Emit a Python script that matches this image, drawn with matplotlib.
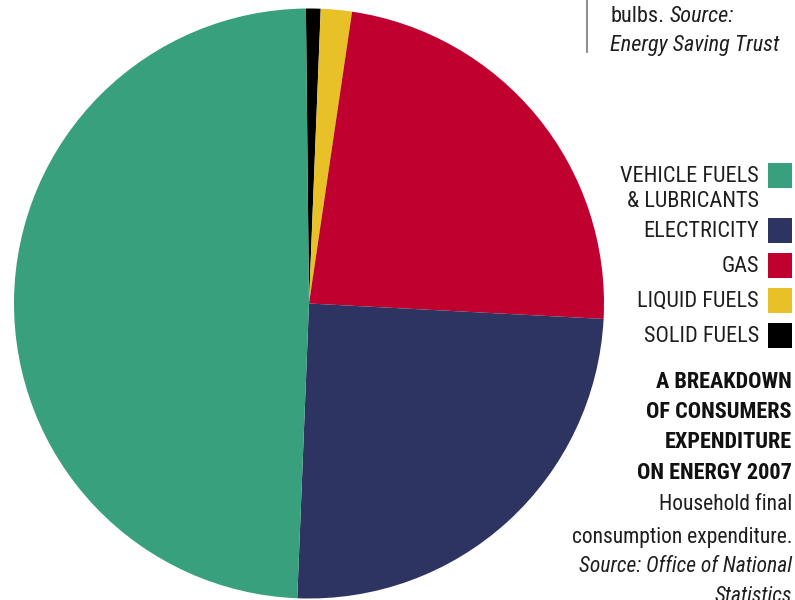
import matplotlib.pyplot as plt
from matplotlib.patches import Rectangle

# share of household energy spend, 2007 (%)
labels = ["VEHICLE FUELS\n& LUBRICANTS", "ELECTRICITY", "GAS", "LIQUID FUELS", "SOLID FUELS"]
values = [49.2, 24.8, 23.5, 1.7, 0.8]
colors = ["#38a07c", "#2d3461", "#c0002f", "#e8c027", "#000000"]

title_lines = ["A BREAKDOWN", "OF CONSUMERS", "EXPENDITURE", "ON ENERGY 2007"]

W, H = 795, 600
FONT = ["Roboto Condensed", "DejaVu Sans"]
TXT = "#1e1e1e"
FS = 16

fig = plt.figure(figsize=(W / 100, H / 100), dpi=100)

def fx(x):
    return x / W

def fy(y):
    return 1 - y / H

# pie, drawn clockwise from the top, smallest slices first
cx, cy, r = 309, 303.5, 295
ax = fig.add_axes([fx(cx - r), fy(cy + r), 2 * r / W, 2 * r / H])
ax.pie(values[::-1], colors=colors[::-1], startangle=90.6, counterclock=False,
       wedgeprops=dict(linewidth=0))
ax.set_xlim(-1, 1)
ax.set_ylim(-1, 1)
ax.set_aspect("auto")
ax.axis("off")

# bit of the previous panel, top right
fig.add_artist(plt.Line2D([fx(587), fx(587)], [fy(0), fy(52)], color="#777777", lw=1.2))
fig.text(fx(610), fy(16), "bulbs.", family=FONT, fontsize=FS, color=TXT, va="center")
fig.text(fx(670), fy(16), "Source:", family=FONT, fontsize=FS, style="italic", color=TXT, va="center")
fig.text(fx(610), fy(46), "Energy Saving Trust", family=FONT, fontsize=FS, style="italic", color=TXT, va="center")

# legend
ys = [175, 230, 265, 300, 335]
for lab, col, y in zip(labels, colors, ys):
    fig.add_artist(Rectangle((fx(768), fy(y + 12.5)), 24 / W, 25 / H, color=col, lw=0))
    fig.text(fx(759), fy(y - 9), lab, family=FONT, fontsize=FS, color=TXT,
             ha="right", va="top", linespacing=1.25)

# heading + note
for i, t in enumerate(title_lines):
    fig.text(fx(792), fy(381.5 + 30.5 * i), t, family=FONT, fontsize=FS, weight="bold",
             color="#111111", ha="right", va="center")
fig.text(fx(792), fy(505), "Household final", family=FONT, fontsize=15.5, color=TXT, ha="right", va="center")
fig.text(fx(792), fy(537), "consumption expenditure.", family=FONT, fontsize=15.5, color=TXT, ha="right", va="center")
fig.text(fx(792), fy(566), "Source: Office of National", family=FONT, fontsize=15.5, style="italic",
         color=TXT, ha="right", va="center")
fig.text(fx(792), fy(597), "Statistics", family=FONT, fontsize=15.5, style="italic", color=TXT,
         ha="right", va="center")

fig.savefig("out.png", dpi=100)
